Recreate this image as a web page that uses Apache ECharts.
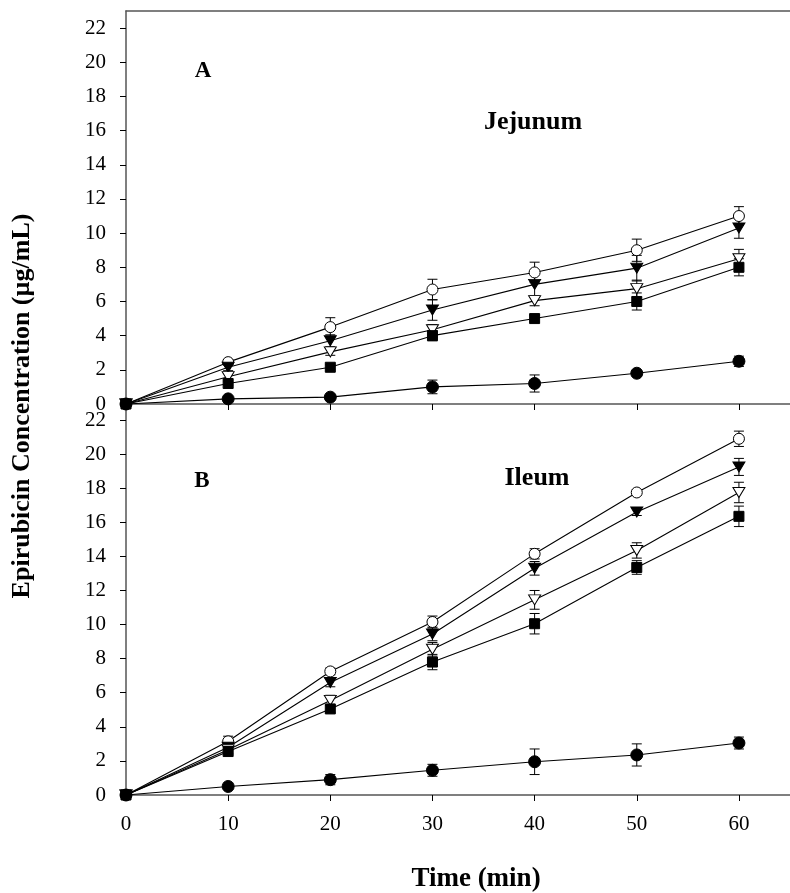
<!DOCTYPE html>
<html>
<head>
<meta charset="utf-8">
<script src="https://cdn.jsdelivr.net/npm/echarts@6/dist/echarts.min.js"></script>
<style>html,body{margin:0;padding:0;background:#fff;}#c{width:790px;height:893px;}</style>
</head>
<body>
<div id="c"></div>
<script>
// ---- data ----
var time = [0, 10, 20, 30, 40, 50, 60];
var xTicks = [0, 10, 20, 30, 40, 50, 60];
var yTicks = [0, 2, 4, 6, 8, 10, 12, 14, 16, 18, 20, 22];

// Panel A: Jejunum
var jejOpenCircle      = [0, 2.45, 4.5, 6.7, 7.7, 9.0, 11.0];
var jejOpenCircleErr   = [0, 0.15, 0.55, 0.6, 0.6, 0.65, 0.55];
var jejFilledTri       = [0, 2.15, 3.7, 5.5, 7.0, 7.95, 10.3];
var jejFilledTriErr    = [0, 0.2, 0.35, 0.6, 0.7, 0.75, 0.6];
var jejOpenTri         = [0, 1.6, 3.05, 4.35, 6.05, 6.75, 8.5];
var jejOpenTriErr      = [0, 0.2, 0.2, 0.3, 0.3, 0.5, 0.55];
var jejSquare          = [0, 1.2, 2.15, 4.0, 5.0, 6.0, 8.0];
var jejSquareErr       = [0, 0.1, 0.15, 0.3, 0.2, 0.5, 0.5];
var jejFilledCircle    = [0, 0.3, 0.4, 1.0, 1.2, 1.8, 2.5];
var jejFilledCircleErr = [0, 0.1, 0.1, 0.4, 0.5, 0.15, 0.3];

// Panel B: Ileum
var ileOpenCircle      = [0, 3.15, 7.25, 10.15, 14.15, 17.75, 20.9];
var ileOpenCircleErr   = [0, 0.3, 0.2, 0.35, 0.3, 0.15, 0.45];
var ileFilledTri       = [0, 2.8, 6.6, 9.45, 13.3, 16.6, 19.25];
var ileFilledTriErr    = [0, 0.2, 0.25, 0.4, 0.4, 0.2, 0.5];
var ileOpenTri         = [0, 2.65, 5.55, 8.55, 11.45, 14.35, 17.75];
var ileOpenTriErr      = [0, 0.2, 0.3, 0.4, 0.55, 0.45, 0.6];
var ileSquare          = [0, 2.55, 5.05, 7.8, 10.05, 13.35, 16.35];
var ileSquareErr       = [0, 0.15, 0.2, 0.45, 0.6, 0.4, 0.6];
var ileFilledCircle    = [0, 0.5, 0.9, 1.45, 1.95, 2.35, 3.05];
var ileFilledCircleErr = [0, 0.1, 0.3, 0.35, 0.75, 0.65, 0.35];

// ---- chart ----
var FONT = '"Liberation Serif", "Times New Roman", serif';
var AX = '#555';

var markerStyles = {
  openCircle:   {symbol: 'circle', symbolSize: 11, rotate: 0, fill: '#fff'},
  filledTri:    {symbol: 'triangle', symbolSize: [12, 10], rotate: 180, fill: '#000'},
  openTri:      {symbol: 'triangle', symbolSize: [12, 10], rotate: 180, fill: '#fff'},
  square:       {symbol: 'rect', symbolSize: 10, rotate: 0, fill: '#000'},
  filledCircle: {symbol: 'circle', symbolSize: 12, rotate: 0, fill: '#000'}
};

function pairs(vals) { return time.map(function (t, i) { return [t, vals[i]]; }); }
function triples(vals, errs) { return time.map(function (t, i) { return [t, vals[i], errs[i]]; }); }

function errSeries(idx, vals, errs) {
  return {
    type: 'custom', xAxisIndex: idx === 0 ? 0 : 2, yAxisIndex: idx, z: 2,
    data: triples(vals, errs), silent: true,
    renderItem: function (params, api) {
      var x = api.value(0), y = api.value(1), e = api.value(2);
      if (!e) return null;
      var hi = api.coord([x, y + e]), lo = api.coord([x, y - e]);
      var c = 5;
      var st = {stroke: '#000', lineWidth: 1};
      return {type: 'group', children: [
        {type: 'line', shape: {x1: hi[0], y1: hi[1], x2: lo[0], y2: lo[1]}, style: st},
        {type: 'line', shape: {x1: hi[0] - c, y1: hi[1], x2: hi[0] + c, y2: hi[1]}, style: st},
        {type: 'line', shape: {x1: lo[0] - c, y1: lo[1], x2: lo[0] + c, y2: lo[1]}, style: st}
      ]};
    }
  };
}
function lineSeries(idx, vals, m) {
  var ms = markerStyles[m];
  return {
    type: 'line', xAxisIndex: idx === 0 ? 0 : 2, yAxisIndex: idx, z: 3,
    data: pairs(vals), symbol: ms.symbol, symbolSize: ms.symbolSize, symbolRotate: ms.rotate,
    showAllSymbol: true, animation: false,
    lineStyle: {color: '#000', width: 1.1},
    itemStyle: {color: ms.fill, borderColor: '#000', borderWidth: 1}
  };
}

var groups = [
  [0, jejOpenCircle, jejOpenCircleErr, 'openCircle'],
  [0, jejFilledTri, jejFilledTriErr, 'filledTri'],
  [0, jejOpenTri, jejOpenTriErr, 'openTri'],
  [0, jejSquare, jejSquareErr, 'square'],
  [0, jejFilledCircle, jejFilledCircleErr, 'filledCircle'],
  [1, ileOpenCircle, ileOpenCircleErr, 'openCircle'],
  [1, ileFilledTri, ileFilledTriErr, 'filledTri'],
  [1, ileOpenTri, ileOpenTriErr, 'openTri'],
  [1, ileSquare, ileSquareErr, 'square'],
  [1, ileFilledCircle, ileFilledCircleErr, 'filledCircle']
];
var series = [];
groups.forEach(function (g) {
  series.push(errSeries(g[0], g[1], g[2]));
  series.push(lineSeries(g[0], g[1], g[3]));
});

var labelStyle = {color: '#000', fontFamily: FONT, fontSize: 21};
function yAxis(gi) {
  return {
    type: 'value', gridIndex: gi, min: 0, max: 23,
    axisLine: {show: true, onZero: false, lineStyle: {color: AX, width: 1.5}},
    axisTick: {show: true, inside: false, length: 6, customValues: yTicks, lineStyle: {color: '#000', width: 1}},
    axisLabel: Object.assign({show: true, margin: 20, customValues: yTicks}, labelStyle),
    splitLine: {show: false}
  };
}
function xAxis(gi, opts) {
  return Object.assign({
    type: 'value', gridIndex: gi, min: 0, max: 65,
    axisLine: {show: true, onZero: false, lineStyle: {color: AX, width: 1.5}},
    axisTick: {show: true, inside: false, length: 6, customValues: xTicks, lineStyle: {color: '#000', width: 1}},
    axisLabel: {show: false},
    splitLine: {show: false}
  }, opts || {});
}

var option = {
  animation: false,
  backgroundColor: '#fff',
  grid: [
    {left: 126, top: 11, width: 671, height: 393},
    {left: 126, top: 403, width: 671, height: 392}
  ],
  xAxis: [
    xAxis(0),
    xAxis(0, {position: 'top', axisTick: {show: false}}),
    xAxis(1, {axisLabel: Object.assign({show: true, margin: 19, customValues: xTicks}, labelStyle)})
  ],
  yAxis: [yAxis(0), yAxis(1)],
  series: series,
  graphic: [
    {type: 'text', x: 203, y: 71, style: {text: 'A', font: 'bold 23px ' + FONT, fill: '#000', align: 'center', verticalAlign: 'middle'}},
    {type: 'text', x: 533, y: 122, style: {text: 'Jejunum', font: 'bold 26px ' + FONT, fill: '#000', align: 'center', verticalAlign: 'middle'}},
    {type: 'text', x: 202, y: 481, style: {text: 'B', font: 'bold 23px ' + FONT, fill: '#000', align: 'center', verticalAlign: 'middle'}},
    {type: 'text', x: 537, y: 478, style: {text: 'Ileum', font: 'bold 26px ' + FONT, fill: '#000', align: 'center', verticalAlign: 'middle'}},
    {type: 'text', x: 476, y: 879, style: {text: 'Time (min)', font: 'bold 27px ' + FONT, fill: '#000', align: 'center', verticalAlign: 'middle'}},
    {type: 'text', x: 22, y: 406, rotation: Math.PI / 2, style: {text: 'Epirubicin Concentration (µg/mL)', font: 'bold 26px ' + FONT, fill: '#000', align: 'center', verticalAlign: 'middle'}}
  ]
};
var chart = echarts.init(document.getElementById('c'), null, {renderer: 'canvas'});
chart.setOption(option);
</script>
</body>
</html>
